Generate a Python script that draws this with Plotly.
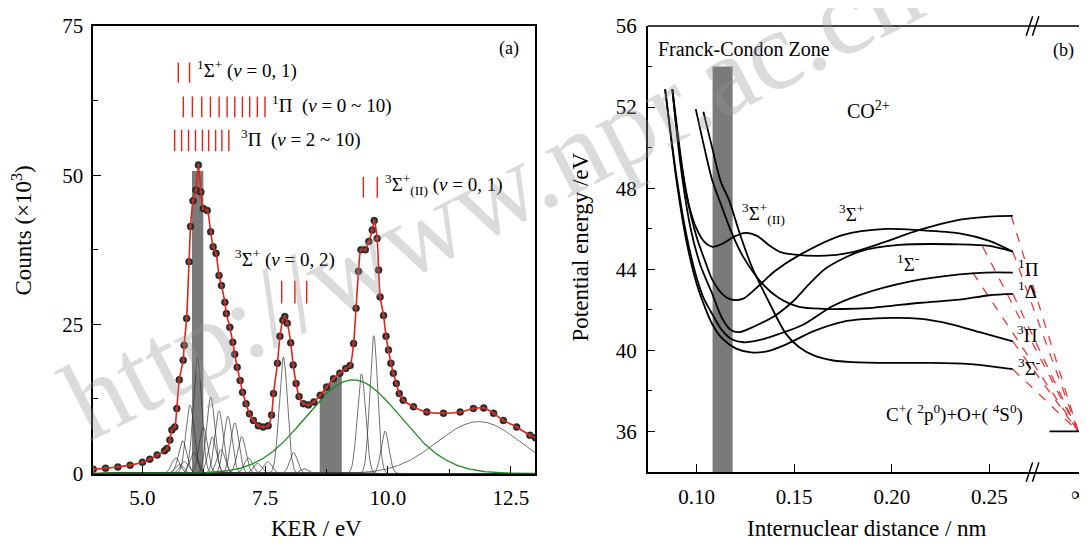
import numpy as np
import plotly.graph_objects as go

# ---------------- Panel (a): KER spectrum ----------------
ker = [4.0, 4.25, 4.5, 4.75, 5.0, 5.15, 5.3, 5.45, 5.5, 5.56, 5.6, 5.66, 5.70, 5.75, 5.83, 5.85,
       5.90, 5.95, 5.98, 6.03, 6.09, 6.14, 6.19, 6.24, 6.32, 6.39, 6.44, 6.50, 6.56, 6.61,
       6.68, 6.71, 6.78, 6.84, 6.88, 6.93, 6.99, 7.04, 7.11, 7.18, 7.26, 7.36, 7.46, 7.56,
       7.63, 7.67, 7.75, 7.80, 7.86, 7.90, 7.95, 8.02, 8.07, 8.13, 8.19, 8.28, 8.38, 8.49,
       8.62, 8.75, 8.89, 9.02, 9.14, 9.23, 9.30, 9.35, 9.40, 9.45, 9.54, 9.61, 9.68, 9.72,
       9.78, 9.81, 9.84, 9.91, 9.96, 10.01, 10.06, 10.11, 10.17, 10.23, 10.31, 10.52, 10.79,
       11.13, 11.47, 11.74, 11.95, 12.15, 12.35, 12.62, 12.89, 13.0]
counts = [0.7, 0.9, 1.1, 1.4, 1.9, 2.4, 3.1, 3.8, 4.2, 5.6, 7.3, 7.8, 10.9, 15.7, 19.0, 21.5,
          26.0, 35.5, 41.4, 45.7, 47.5, 51.7, 47.2, 44.4, 44.1, 40.5, 38.0, 36.9, 33.2, 31.5,
          28.7, 26.8, 24.5, 22.0, 20.0, 17.8, 15.6, 13.6, 11.7, 10.0, 8.9, 8.0, 7.8, 8.0,
          9.8, 13.4, 18.5, 23.0, 25.7, 26.3, 25.2, 21.9, 18.2, 15.1, 12.9, 11.7, 11.5, 12.0,
          13.1, 14.5, 15.9, 16.8, 17.6, 18.1, 21.8, 27.7, 33.9, 37.5, 37.5, 38.9, 40.8, 42.4,
          39.4, 34.1, 29.6, 26.5, 23.0, 20.7, 18.5, 16.8, 15.1, 13.4, 12.3, 11.2, 10.3,
          10.1, 10.3, 10.9, 11.0, 10.1, 8.9, 7.8, 6.4, 6.0]

# Gaussian fit components: centre (eV), height (x10^3), sigma (eV)
comp_center = [5.68, 5.75, 5.82, 5.85, 5.97, 6.05, 6.12, 6.24, 6.39, 6.42, 6.56, 6.60, 6.74,
               6.88, 7.02, 7.16, 7.34, 7.55, 7.87, 8.08, 8.30, 9.46, 9.71, 9.94, 11.85]
comp_height = [2.6, 1.5, 5.5, 2.0, 11.5, 3.5, 19.5, 7.8, 12.8, 6.1, 10.5, 4.0, 9.6,
               8.5, 6.2, 2.6, 1.7, 2.0, 19.5, 3.5, 0.8, 16.7, 23.1, 7.1, 8.7]
comp_sigma = [0.085, 0.085, 0.085, 0.085, 0.085, 0.085, 0.085, 0.085, 0.085, 0.085, 0.085,
              0.085, 0.085, 0.085, 0.085, 0.085, 0.085, 0.085, 0.085, 0.08, 0.08, 0.085,
              0.08, 0.08, 0.85]
broad_center, broad_height, broad_sigma = 9.29, 15.7, 0.96

# grey shaded KER windows: x0, x1, top-left, top-right
band_x0 = [6.01, 8.61]
band_x1 = [6.24, 9.06]
band_top0 = [50.7, 13.4]
band_top1 = [50.7, 16.9]

# vibrational level markers (eV)
lv_sig1 = [5.73, 5.96]
lv_pi1 = [5.833, 6.017, 6.208, 6.385, 6.562, 6.725, 6.881, 7.036, 7.185, 7.341, 7.496]
lv_pi3 = [5.656, 5.798, 5.939, 6.081, 6.222, 6.349, 6.491, 6.618, 6.760]
lv_sig3 = [7.836, 8.105, 8.345]
lv_sig3II = [9.499, 9.782]
lv_rows = [(lv_sig1, 65.5, 68.9), (lv_pi1, 59.7, 63.2), (lv_pi3, 54.0, 57.6),
           (lv_sig3, 28.5, 32.3), (lv_sig3II, 46.2, 49.7)]

# ---------------- Panel (b): potential curves ----------------
r_3Sp2 = [0.0876, 0.09, 0.093, 0.096, 0.1, 0.104, 0.1082, 0.113, 0.119, 0.125, 0.131, 0.137,
          0.143, 0.1492, 0.166, 0.18, 0.195, 0.2142, 0.235, 0.25, 0.262]
e_3Sp2 = [52.88, 51.0, 48.8, 47.2, 46.0, 45.35, 45.11, 45.25, 45.6, 45.8, 45.65, 45.2,
          44.85, 44.74, 44.67, 44.85, 45.3, 45.94, 46.45, 46.6, 46.63]
r_3Sp = [0.0876, 0.091, 0.095, 0.1, 0.104, 0.108, 0.113, 0.118, 0.124, 0.132, 0.14, 0.1526,
         0.1748, 0.1971, 0.2142, 0.2347, 0.25, 0.262]
e_3Sp = [52.88, 50.0, 47.6, 45.6, 44.5, 43.5, 42.8, 42.5, 42.55, 43.2, 43.9, 44.7,
         45.69, 45.99, 45.93, 45.77, 45.4, 44.87]
r_1Sm = [0.0876, 0.092, 0.097, 0.102, 0.108, 0.113, 0.1176, 0.122, 0.13, 0.14, 0.1492, 0.158,
         0.1663, 0.1834, 0.2038, 0.2347, 0.25, 0.262]
e_1Sm = [52.88, 49.0, 46.0, 44.2, 42.8, 41.6, 41.0, 40.9, 41.2, 41.7, 42.4, 43.3,
         44.05, 44.87, 45.2, 45.23, 45.15, 44.87]
r_1Pi = [0.0839, 0.09, 0.095, 0.1, 0.104, 0.108, 0.113, 0.118, 0.124, 0.132, 0.142, 0.1543,
         0.17, 0.1834, 0.209, 0.2347, 0.248, 0.262]
e_1Pi = [52.88, 48.4, 45.6, 43.6, 42.5, 41.8, 41.0, 40.55, 40.4, 40.5, 40.8, 41.25,
         42.2, 42.73, 43.39, 43.75, 43.84, 43.84]
r_1De = [0.0996, 0.104, 0.108, 0.1125, 0.118, 0.124, 0.1336, 0.142, 0.1526, 0.165, 0.1748,
         0.19, 0.2, 0.215, 0.2347, 0.25, 0.262]
e_1De = [51.9, 50.0, 48.4, 47.2, 45.8, 44.6, 43.3, 42.6, 42.15, 42.05, 42.04,
         42.1, 42.2, 42.35, 42.5, 42.72, 42.79]
r_3Pi = [0.0839, 0.09, 0.095, 0.1, 0.104, 0.108, 0.113, 0.12, 0.128, 0.136, 0.146, 0.16,
         0.1748, 0.2, 0.215, 0.23, 0.245, 0.262]
e_3Pi = [52.88, 48.2, 45.3, 43.3, 42.2, 41.3, 40.6, 40.1, 39.9, 39.95, 40.3, 40.95,
         41.41, 41.6, 41.55, 41.3, 40.9, 40.44]
r_3Sm = [0.1035, 0.108, 0.1125, 0.1167, 0.122, 0.128, 0.137, 0.1459, 0.1526, 0.16, 0.17,
         0.18, 0.2, 0.22, 0.24, 0.252, 0.262]
e_3Sm = [51.77, 50.0, 48.3, 47.4, 45.8, 44.2, 42.4, 40.8, 40.15, 39.75, 39.5,
         39.42, 39.38, 39.38, 39.32, 39.2, 39.07]
curves_r = [r_3Sp2, r_3Sp, r_1Sm, r_1Pi, r_1De, r_3Pi, r_3Sm]
curves_e = [e_3Sp2, e_3Sp, e_1Sm, e_1Pi, e_1De, e_3Pi, e_3Sm]

# dissociation paths to the asymptote C+(2P0)+O(4S0)
dash_r = [0.2612, 0.2466, 0.262, 0.2415, 0.262, 0.262, 0.262]
dash_e = [46.63, 45.11, 44.87, 43.84, 42.79, 40.44, 39.07]
r_inf = 0.2955
e_limit = 36.0
asym_r = [0.2808, 0.30]

fc_r0, fc_r1, fc_top = 0.1082, 0.1185, 54.0

FONT = "Liberation Serif, Times New Roman, serif"
W, H = 1079, 536   # page body adds an 8 px offset; figure fills the rest of the window
fig = go.Figure()

# ---- panel (a) traces
for x0, x1, t0, t1 in zip(band_x0, band_x1, band_top0, band_top1):
    fig.add_trace(go.Scatter(x=[x0, x0, x1, x1, x0], y=[0, t0, t1, 0, 0], fill="toself",
                             fillcolor="#7a7a7a", line=dict(width=0), mode="lines",
                             hoverinfo="skip", showlegend=False, xaxis="x", yaxis="y"))
xg = np.linspace(4, 13, 901)
for c, h, s in zip(comp_center, comp_height, comp_sigma):
    fig.add_trace(go.Scatter(x=xg, y=h * np.exp(-(xg - c) ** 2 / (2 * s * s)), mode="lines",
                             line=dict(color="#333333", width=0.7), showlegend=False,
                             hoverinfo="skip", xaxis="x", yaxis="y"))
fig.add_trace(go.Scatter(x=xg, y=broad_height * np.exp(-(xg - broad_center) ** 2 / (2 * broad_sigma ** 2)),
                         mode="lines", line=dict(color="#1f8a1f", width=1.3), showlegend=False,
                         xaxis="x", yaxis="y"))
fig.add_trace(go.Scatter(x=ker, y=counts, mode="markers",
                         marker=dict(size=7, color="#050505", line=dict(width=0.5, color="#444"),
                                     gradient=dict(type="radial", color="#7a7a7a")),
                         showlegend=False, xaxis="x", yaxis="y"))
fig.add_trace(go.Scatter(x=ker, y=counts, mode="lines", line=dict(color="#e2231a", width=1.6, shape="spline", smoothing=0.6),
                         showlegend=False, xaxis="x", yaxis="y"))
lx, ly = [], []
for lv, y0, y1 in lv_rows:
    for v in lv:
        lx += [v, v, None]
        ly += [y0, y1, None]
fig.add_trace(go.Scatter(x=lx, y=ly, mode="lines", line=dict(color="#e2231a", width=1.4),
                         showlegend=False, xaxis="x", yaxis="y"))

# ---- panel (b) traces
fig.add_trace(go.Scatter(x=[fc_r0, fc_r0, fc_r1, fc_r1, fc_r0], y=[34, fc_top, fc_top, 34, 34],
                         fill="toself", fillcolor="#7a7a7a", line=dict(width=0), mode="lines",
                         showlegend=False, xaxis="x2", yaxis="y2"))
dx, dy = [], []
for r, e in zip(dash_r, dash_e):
    dx += [r, r_inf, None]
    dy += [e, e_limit, None]
fig.add_trace(go.Scatter(x=dx, y=dy, mode="lines", line=dict(color="#e8383d", width=1.3, dash="dash"),
                         showlegend=False, xaxis="x2", yaxis="y2"))
for r, e in zip(curves_r, curves_e):
    fig.add_trace(go.Scatter(x=r, y=e, mode="lines", line=dict(color="black", width=1.8, shape="spline", smoothing=0.8),
                             showlegend=False, xaxis="x2", yaxis="y2"))
fig.add_trace(go.Scatter(x=asym_r, y=[e_limit, e_limit], mode="lines", line=dict(color="black", width=1.8),
                         showlegend=False, xaxis="x2", yaxis="y2", cliponaxis=False))

axis_common = dict(showline=True, linecolor="black", linewidth=1.5, ticks="inside", tickcolor="black",
                   tickwidth=1.3, showgrid=False, zeroline=False, automargin=False,
                   tickfont=dict(family=FONT, size=21, color="black"))
YA0, YA1 = 0.1315, 0.9664
YB0, YB1 = 0.1343, 0.9664
XB0, XB1 = 0.5929, 1.0
fig.update_layout(
    template="none",
    width=W, height=H, margin=dict(l=0, r=0, t=0, b=0, pad=0, autoexpand=False),
    paper_bgcolor="white", plot_bgcolor="white", showlegend=False,
    xaxis=dict(domain=[0.07905, 0.4887], range=[4, 13], anchor="y", mirror=True,
               tickvals=[5, 7.5, 10, 12.5], ticktext=["5.0", "7.5", "10.0", "12.5"], ticklen=8,
               minor=dict(tickvals=[6.25, 8.75, 11.25], ticklen=5, ticks="inside", tickcolor="black"),
               ticklabelstandoff=5, **axis_common),
    yaxis=dict(domain=[YA0, YA1], range=[0, 75], anchor="x", mirror=True,
               tickvals=[0, 25, 50, 75], ticklen=8,
               minor=dict(tickvals=[12.5, 37.5, 62.5], ticklen=5, ticks="inside", tickcolor="black"),
               ticklabelstandoff=4, **axis_common),
    xaxis2=dict(domain=[XB0, XB1], range=[0.075, 0.30], anchor="y2",
                tickvals=[0.10, 0.15, 0.20, 0.25], ticktext=["0.10", "0.15", "0.20", "0.25"], ticklen=8,
                ticklabelstandoff=5, **axis_common),
    yaxis2=dict(domain=[YB0, YB1], range=[34, 56], anchor="x2",
                tickvals=[36, 40, 44, 48, 52, 56], ticklen=8,
                minor=dict(tickvals=[38, 42, 46, 50, 54], ticklen=5, ticks="inside", tickcolor="black"),
                ticklabelstandoff=5, **axis_common),
)

# top frame line of panel (b) and axis-break marks
def px2paper(v):
    return XB0 + (v - 0.075) / (0.30 - 0.075) * (XB1 - XB0)
fig.add_shape(type="line", xref="paper", yref="paper", x0=XB0, x1=1.0, y0=YB1, y1=YB1,
              line=dict(color="black", width=1.5))
for yb in (YB0, YB1):
    for off in (0.0, 0.0032):
        xb = px2paper(0.2705 + off)
        fig.add_shape(type="line", xref="paper", yref="paper", x0=xb - 0.003, x1=xb + 0.003,
                      y0=yb - 0.018, y1=yb + 0.018, line=dict(color="black", width=1.5))

def ann(text, x, y, xref, yref, size=19, xanchor="left", yanchor="middle", angle=0, color="black"):
    fig.add_annotation(text=text, x=x, y=y, xref=xref, yref=yref, showarrow=False, xanchor=xanchor,
                       yanchor=yanchor, textangle=angle, font=dict(family=FONT, size=size, color=color))

# panel (a) labels
ann("<sup>1</sup>Σ<sup>+</sup> (<i>v</i> = 0, 1)", 6.08, 67.7, "x", "y")
ann("<sup>1</sup>Π  (<i>v</i> = 0 ~ 10)", 7.6, 61.9, "x", "y")
ann("<sup>3</sup>Π  (<i>v</i> = 2 ~ 10)", 6.97, 56.1, "x", "y")
ann("<sup>3</sup>Σ<sup>+</sup><sub>(II)</sub> (<i>v</i> = 0, 1)", 9.9, 48.5, "x", "y")
ann("<sup>3</sup>Σ<sup>+</sup> (<i>v</i> = 0, 2)", 6.84, 36.0, "x", "y")
ann("(a)", 12.47, 71.2, "x", "y", size=18, xanchor="center")
ann("Counts (×10<sup>3</sup>)", 0.0135, 0.584, "paper", "paper", size=23, xanchor="center", angle=-90)
ann("KER / eV", 0.2855, 0.028, "paper", "paper", size=23, xanchor="center")

# panel (b) labels
ann("Franck-Condon Zone", 0.0794, 54.89, "x2", "y2", size=20)
ann("(b)", 0.2878, 54.8, "x2", "y2", size=18, xanchor="center")
ann("CO<sup>2+</sup>", 0.188, 51.86, "x2", "y2", size=20, xanchor="center")
ann("<sup>3</sup>Σ<sup>+</sup><sub>(II)</sub>", 0.1225, 46.75, "x2", "y2", size=19)
ann("<sup>3</sup>Σ<sup>+</sup>", 0.1722, 46.8, "x2", "y2", size=19)
ann("<sup>1</sup>Σ<sup>-</sup>", 0.2015, 44.32, "x2", "y2", size=19)
ann("<sup>1</sup>Π", 0.2635, 44.07, "x2", "y2", size=19)
ann("<sup>1</sup>Δ", 0.2635, 42.96, "x2", "y2", size=19)
ann("<sup>3</sup>Π", 0.263, 40.83, "x2", "y2", size=19)
ann("<sup>3</sup>Σ<sup>-</sup>", 0.2635, 39.2, "x2", "y2", size=19)
ann("C<sup>+</sup>( <sup>2</sup>p<sup>0</sup>)+O+( <sup>4</sup>S<sup>0</sup>)", 0.1962, 36.9, "x2", "y2", size=19)
ann("∞", r_inf, 0.0933, "x2", "paper", size=20, xanchor="center")
ann("Potential energy /eV", 0.5305, 0.554, "paper", "paper", size=23, xanchor="center", angle=-90)
ann("Internuclear distance / nm", 0.7961, 0.028, "paper", "paper", size=23, xanchor="center")

# source watermark
ann("http://www.npr.ac.cn", 0.4486, 0.653, "paper", "paper", size=113, xanchor="center", angle=-27,
    color="rgba(150,150,150,0.34)")

fig.write_html("out.html")
